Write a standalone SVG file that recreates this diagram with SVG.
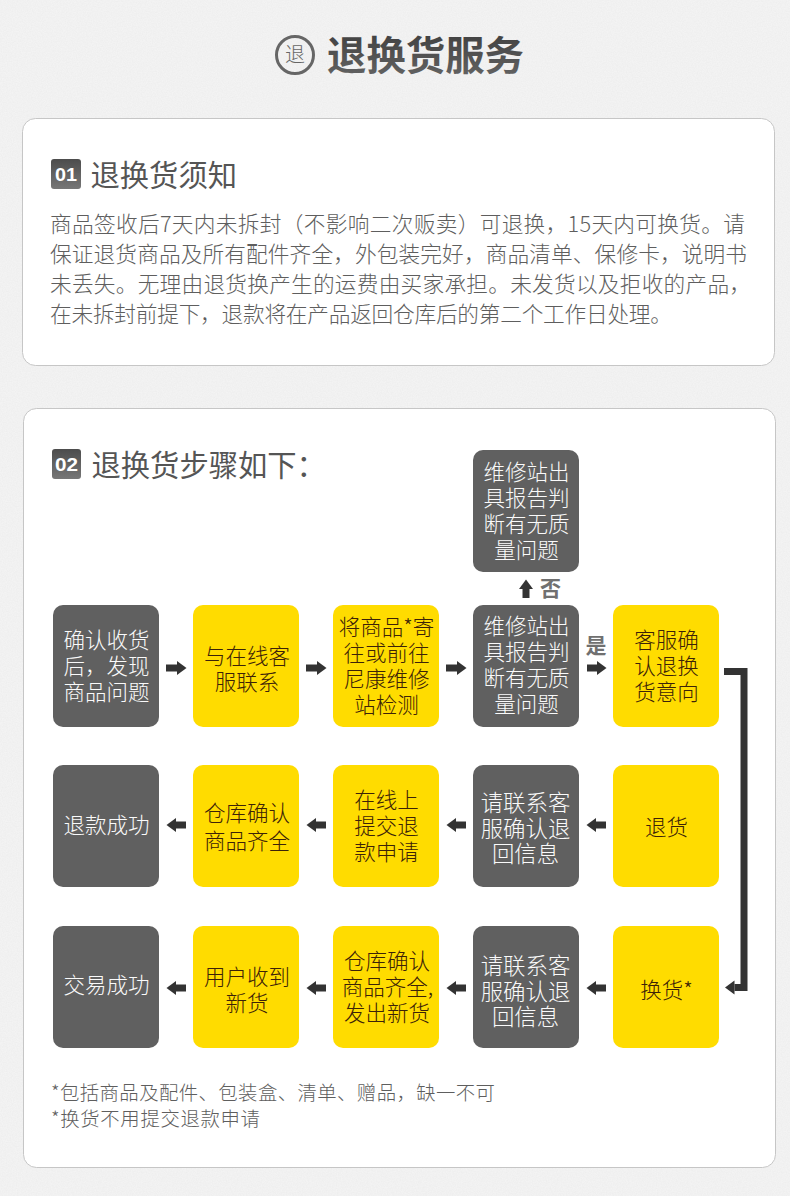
<svg xmlns="http://www.w3.org/2000/svg" width="790" height="1196" viewBox="0 0 790 1196">
<defs>
<filter id="noise" x="0" y="0" width="100%" height="100%"><feTurbulence type="fractalNoise" baseFrequency="0.8" numOctaves="2" seed="3"/><feColorMatrix values="0 0 0 0 0.5 0 0 0 0 0.5 0 0 0 0 0.5 0 0 0 0.16 -0.04"/></filter>
<linearGradient id="badge" x1="0" y1="0" x2="0" y2="1"><stop offset="0" stop-color="#4c4c4c"/><stop offset="1" stop-color="#777"/></linearGradient>
<linearGradient id="titleInk" x1="0" y1="0" x2="0" y2="1"><stop offset="0" stop-color="#3a3a3a"/><stop offset="1" stop-color="#666"/></linearGradient>
<marker id="head" markerUnits="userSpaceOnUse" markerWidth="10" markerHeight="16" refX="0" refY="8" orient="auto"><path d="M0 1L9.500 8L0 15Z" fill="#333"/></marker>
</defs>
<style>
text{font-family:"Noto Sans CJK SC","Noto Sans",sans-serif}
.card{fill:#fff;stroke:#c6c6c6;stroke-width:1}
.g{fill:#606060}.y{fill:#ffdc00}
.n{font-size:21.5px;text-anchor:middle;font-weight:300}
.w{font-size:22.4px}
.tg{fill:#fafafa}.ty{fill:#3c2208}
.b{font-size:21.7px;fill:#5e5e5e;font-weight:300}
.h{font-size:29.3px;fill:#555;font-weight:400}
.f{font-size:19.4px;fill:#5e5e5e;font-weight:300}
.a{stroke:#333;stroke-width:7;fill:none;marker-end:url(#head)}
.r{fill:#fff;font:bold 19px "Liberation Sans",sans-serif;text-anchor:middle}
</style>
<rect width="790" height="1196" fill="#f3f3f3"/>
<rect width="790" height="1196" filter="url(#noise)"/>
<g id="title">
<circle cx="295" cy="55" r="18.500" fill="none" stroke="#666" stroke-width="3"/>
<text x="295" y="62" font-size="20" fill="#666" text-anchor="middle" font-weight="300">退</text>
<text x="327" y="70" font-size="39.400" font-weight="700" fill="url(#titleInk)">退换货服务</text>
</g>
<g id="card1">
<rect class="card" x="22.500" y="118.500" width="752" height="247" rx="13"/>
<rect x="51" y="159" width="30" height="30" rx="3" fill="url(#badge)"/>
<text class="r" x="66" y="181" textLength="22" lengthAdjust="spacingAndGlyphs">01</text>
<text class="h" x="90.500" y="185.500">退换货须知</text>
<text class="b" x="50" y="232" textLength="695">商品签收后7天内未拆封（不影响二次贩卖）可退换，15天内可换货。请</text>
<text class="b" x="50" y="262" textLength="697">保证退货商品及所有配件齐全，外包装完好，商品清单、保修卡，说明书</text>
<text class="b" x="50" y="292" textLength="701">未丢失。无理由退货换产生的运费由买家承担。未发货以及拒收的产品，</text>
<text class="b" x="50" y="322" textLength="622">在未拆封前提下，退款将在产品返回仓库后的第二个工作日处理。</text>
</g>
<g id="card2">
<rect class="card" x="23.500" y="408.500" width="752" height="759" rx="13"/>
<rect x="52" y="449" width="29" height="30" rx="3" fill="url(#badge)"/>
<text class="r" x="66.500" y="470.500" textLength="23" lengthAdjust="spacingAndGlyphs">02</text>
<text class="h" x="91.500" y="476">退换货步骤如下：</text>
</g>
<g id="connectors">
<line class="a" x1="166" y1="668" x2="177" y2="668"/>
<line class="a" x1="306" y1="668" x2="317" y2="668"/>
<line class="a" x1="446" y1="668" x2="457" y2="668"/>
<line class="a" x1="587" y1="668" x2="597" y2="668"/>
<line class="a" x1="526" y1="598" x2="526" y2="589"/>
<polyline class="a" points="724,671.500 744,671.500 744,987.500 734.500,987.500"/>
<line class="a" x1="186" y1="825" x2="176" y2="825"/>
<line class="a" x1="326" y1="825" x2="316" y2="825"/>
<line class="a" x1="466" y1="825" x2="456" y2="825"/>
<line class="a" x1="606" y1="825" x2="596" y2="825"/>
<line class="a" x1="186" y1="988" x2="176" y2="988"/>
<line class="a" x1="326" y1="988" x2="316" y2="988"/>
<line class="a" x1="466" y1="988" x2="456" y2="988"/>
<line class="a" x1="606" y1="988" x2="596" y2="988"/>
<text x="550.500" y="596" font-size="21" font-weight="700" fill="#707070" text-anchor="middle">否</text>
<text x="596" y="653" font-size="21" font-weight="700" fill="#707070" text-anchor="middle">是</text>
</g>
<g id="n-top"><rect class="g" x="473" y="450" width="106" height="122" rx="10"/><text class="n tg"><tspan x="526.500" y="480">维修站出</tspan><tspan x="526.500" y="506">具报告判</tspan><tspan x="526.500" y="532">断有无质</tspan><tspan x="526.500" y="558">量问题</tspan></text></g>
<g id="n1-1"><rect class="g" x="53" y="605" width="106" height="122" rx="10"/><text class="n tg"><tspan x="106.500" y="648">确认收货</tspan><tspan x="106.500" y="674">后，发现</tspan><tspan x="106.500" y="700">商品问题</tspan></text></g>
<g id="n1-2"><rect class="y" x="193" y="605" width="106" height="122" rx="10"/><text class="n ty"><tspan x="247" y="664">与在线客</tspan><tspan x="247" y="690">服联系</tspan></text></g>
<g id="n1-3"><rect class="y" x="333" y="605" width="106" height="122" rx="10"/><text class="n ty"><tspan x="386.500" y="635">将商品*寄</tspan><tspan x="386.500" y="661">往或前往</tspan><tspan x="386.500" y="687">尼康维修</tspan><tspan x="386.500" y="713">站检测</tspan></text></g>
<g id="n1-4"><rect class="g" x="473" y="605" width="106" height="122" rx="10"/><text class="n tg"><tspan x="526.500" y="634">维修站出</tspan><tspan x="526.500" y="660">具报告判</tspan><tspan x="526.500" y="686">断有无质</tspan><tspan x="526.500" y="712">量问题</tspan></text></g>
<g id="n1-5"><rect class="y" x="613" y="605" width="106" height="122" rx="10"/><text class="n ty"><tspan x="666.500" y="648">客服确</tspan><tspan x="666.500" y="674">认退换</tspan><tspan x="666.500" y="700">货意向</tspan></text></g>
<g id="n2-1"><rect class="g" x="53" y="765" width="106" height="122" rx="10"/><text class="n tg" x="106.500" y="833">退款成功</text></g>
<g id="n2-2"><rect class="y" x="193" y="765" width="106" height="122" rx="10"/><text class="n ty"><tspan x="247" y="821">仓库确认</tspan><tspan x="247" y="849">商品齐全</tspan></text></g>
<g id="n2-3"><rect class="y" x="333" y="765" width="106" height="122" rx="10"/><text class="n ty"><tspan x="386.500" y="808">在线上</tspan><tspan x="386.500" y="834">提交退</tspan><tspan x="386.500" y="860">款申请</tspan></text></g>
<g id="n2-4"><rect class="g" x="473" y="765" width="106" height="122" rx="10"/><text class="n w tg"><tspan x="525.500" y="811">请联系客</tspan><tspan x="525.500" y="837">服确认退</tspan><tspan x="525.500" y="862">回信息</tspan></text></g>
<g id="n2-5"><rect class="y" x="613" y="765" width="106" height="122" rx="10"/><text class="n ty" x="666.500" y="835">退货</text></g>
<g id="n3-1"><rect class="g" x="53" y="926" width="106" height="122" rx="10"/><text class="n tg" x="106.500" y="993">交易成功</text></g>
<g id="n3-2"><rect class="y" x="193" y="926" width="106" height="122" rx="10"/><text class="n ty"><tspan x="247" y="985">用户收到</tspan><tspan x="247" y="1011">新货</tspan></text></g>
<g id="n3-3"><rect class="y" x="333" y="926" width="106" height="122" rx="10"/><text class="n ty"><tspan x="387" y="969">仓库确认</tspan><tspan x="387.500" y="995">商品齐全,</tspan><tspan x="387" y="1021">发出新货</tspan></text></g>
<g id="n3-4"><rect class="g" x="473" y="926" width="106" height="122" rx="10"/><text class="n w tg"><tspan x="525.500" y="974">请联系客</tspan><tspan x="525.500" y="1000">服确认退</tspan><tspan x="525.500" y="1025">回信息</tspan></text></g>
<g id="n3-5"><rect class="y" x="613" y="926" width="106" height="122" rx="10"/><text class="n ty" x="666.500" y="998">换货*</text></g>
<g id="notes">
<text class="f" x="51" y="1100" textLength="444">*包括商品及配件、包装盒、清单、赠品，缺一不可</text>
<text class="f" x="51" y="1126" textLength="209">*换货不用提交退款申请</text>
</g>
</svg>
